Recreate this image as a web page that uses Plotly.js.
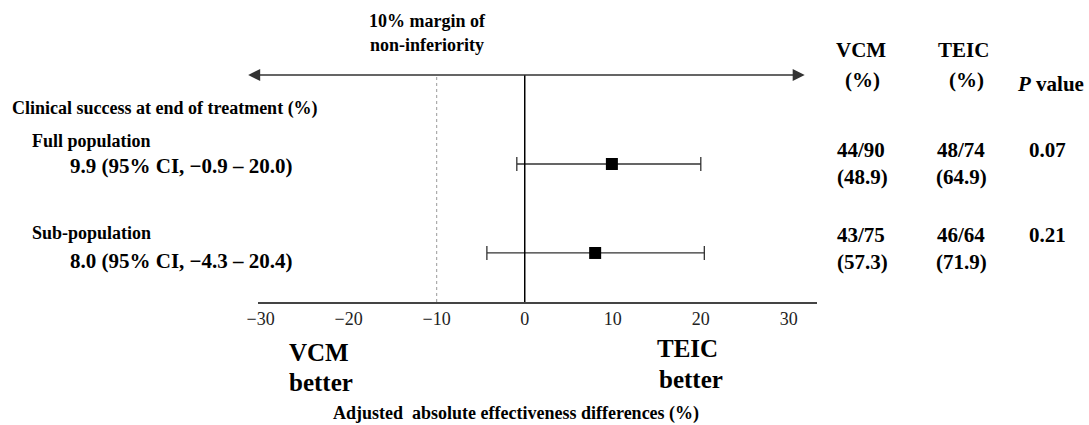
<!DOCTYPE html>
<html>
<head>
<meta charset="utf-8">
<script src="https://cdn.plot.ly/plotly-3.0.1.min.js"></script>
<style>html,body{margin:0;padding:0;background:#fff;}#chart{width:1089px;height:425px;}</style>
</head>
<body>
<div id="chart"></div>
<script>
// ---- data ----
const groups = ["Full population", "Sub-population"];
const estimates = [9.9, 8.0];
const ciLow = [-0.9, -4.3];
const ciHigh = [20.0, 20.4];
const vcmSuccess = [44, 43];
const vcmTotal = [90, 75];
const vcmPct = [48.9, 57.3];
const teicSuccess = [48, 46];
const teicTotal = [74, 64];
const teicPct = [64.9, 71.9];
const pValues = ["0.07", "0.21"];
const tickValues = [-30, -20, -10, 0, 10, 20, 30];
const marginValue = -10;

// ---- layout helpers ----
const W = 1089, H = 425;
const M = {l: 258, r: 272, t: 75, b: 123};
const plotW = W - M.l - M.r, plotH = H - M.t - M.b;
const px = x => (x - M.l) / plotW;
const py = y => (H - M.b - y) / plotH;
const serif = "Liberation Serif";
const fmt = v => (v < 0 ? "\u2212" + Math.abs(v).toFixed(1) : v.toFixed(1));

function txt(text, x, y, size, anchor) {
  return {text: text, xref: "paper", yref: "paper", x: px(x), y: py(y),
    xanchor: anchor || "center", yanchor: "middle", showarrow: false,
    font: {family: serif, size: size, color: "#000"}};
}

const trace = {
  type: "scatter", mode: "markers",
  x: estimates, y: groups,
  marker: {symbol: "square", size: 12, color: "#000"},
  error_x: {type: "data", symmetric: false,
    array: estimates.map((e, i) => ciHigh[i] - e),
    arrayminus: estimates.map((e, i) => e - ciLow[i]),
    color: "#333", thickness: 1.3, width: 7},
  hoverinfo: "skip", showlegend: false, cliponaxis: false
};

const rowLabelY = [141, 233];
const rowCiY = [166, 261];
const rowLine1 = [150, 235];
const rowLine2 = [177, 262];

const ann = [
  txt("<b>10% margin of</b>", 427, 21, 18),
  txt("<b>non-inferiority</b>", 427, 45, 18),
  txt("<b>Clinical success at end of treatment (%)</b>", 10, 108, 18, "left"),
  txt("<b>VCM</b>", 861, 50, 21),
  txt("<b>(%)</b>", 862, 80, 21),
  txt("<b>TEIC</b>", 963, 50, 21),
  txt("<b>(%)</b>", 966, 80, 21),
  txt("<b><i>P</i> value</b>", 1050, 84, 21),
  txt("<b>VCM</b>", 287, 352, 25, "left"),
  txt("<b>better</b>", 287, 382, 25, "left"),
  txt("<b>TEIC</b>", 655, 348, 25, "left"),
  txt("<b>better</b>", 657, 379, 25, "left"),
  txt("<b>Adjusted  absolute effectiveness differences (%)</b>", 516, 413, 18),
  {x: 31.8, y: 1, xref: "x", yref: "paper", ax: -558, ay: 0, text: "",
   showarrow: true, arrowside: "end+start", arrowhead: 2, arrowsize: 1.5,
   arrowwidth: 1.6, arrowcolor: "#333", standoff: 0, startstandoff: 0}
];
groups.forEach((g, i) => {
  ann.push(txt("<b>" + g + "</b>", 30, rowLabelY[i], 18, "left"));
  ann.push(txt("<b>" + estimates[i].toFixed(1) + " (95% CI, " + fmt(ciLow[i]) + " \u2013 " + fmt(ciHigh[i]) + ")</b>", 68, rowCiY[i], 21, "left"));
  ann.push(txt("<b>" + vcmSuccess[i] + "/" + vcmTotal[i] + "</b>", 861, rowLine1[i], 21));
  ann.push(txt("<b>(" + vcmPct[i].toFixed(1) + ")</b>", 862, rowLine2[i], 21));
  ann.push(txt("<b>" + teicSuccess[i] + "/" + teicTotal[i] + "</b>", 961, rowLine1[i], 21));
  ann.push(txt("<b>(" + teicPct[i].toFixed(1) + ")</b>", 961, rowLine2[i], 21));
  ann.push(txt("<b>" + pValues[i] + "</b>", 1047, rowLine1[i], 21));
});

const layout = {
  width: W, height: H,
  margin: M,
  paper_bgcolor: "#fff", plot_bgcolor: "#fff",
  showlegend: false,
  font: {family: serif},
  xaxis: {range: [-30.3, 33.2], tickvals: tickValues,
    ticktext: tickValues.map(v => v < 0 ? "\u2212" + Math.abs(v) : String(v)),
    showgrid: false, zeroline: false, showline: true, linecolor: "#444", linewidth: 1.5,
    ticks: "", tickfont: {family: serif, size: 18, color: "#222"}, fixedrange: true},
  yaxis: {type: "category", categoryorder: "array", categoryarray: groups,
    range: [1.551, -1.0], showgrid: false, zeroline: false, showline: false,
    showticklabels: false, ticks: "", fixedrange: true},
  shapes: [
    {type: "line", xref: "x", yref: "paper", x0: 0, x1: 0, y0: 0, y1: 1,
     line: {color: "#000", width: 1.5}},
    {type: "line", xref: "x", yref: "paper", x0: marginValue, x1: marginValue, y0: 0, y1: 1,
     line: {color: "#999", width: 1, dash: "dot"}}
  ],
  annotations: ann
};

Plotly.newPlot("chart", [trace], layout, {staticPlot: true, displayModeBar: false});
</script>
</body>
</html>
